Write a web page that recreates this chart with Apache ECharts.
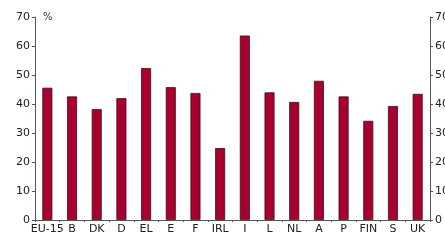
<!DOCTYPE html>
<html lang="en">
<head>
    <meta charset="UTF-8">
    <title>Chart</title>
    <style type="text/css">
        html, body { margin: 0; padding: 0; background: #fff; }
        #chart { width: 445px; height: 240px; }
    </style>
</head>
<body>
<div id="chart"></div>
<script src="https://cdn.jsdelivr.net/npm/echarts@6/dist/echarts.min.js"></script>
<script>
    // countries and values (%)
    var countries = ['EU-15', 'B', 'DK', 'D', 'EL', 'E', 'F', 'IRL', 'I', 'L', 'NL', 'A', 'P', 'FIN', 'S', 'UK'];
    var values = [45.6, 42.6, 38.2, 42.0, 52.4, 45.8, 43.8, 24.8, 63.6, 44.0, 40.7, 48.0, 42.6, 34.2, 39.3, 43.5];
    var yTicks = [0, 10, 20, 30, 40, 50, 60, 70];

    var font = 'DejaVu Sans, Verdana, sans-serif';
    var axisCol = '#555';

    var yAxisBase = {
        type: 'value',
        min: yTicks[0],
        max: yTicks[yTicks.length - 1],
        interval: 10,
        splitLine: { show: false },
        axisLine: { show: true, lineStyle: { color: axisCol, width: 1 } },
        axisTick: { show: true, length: 3, lineStyle: { color: axisCol } },
        axisLabel: { color: '#222', fontSize: 11, fontFamily: font, margin: 5 }
    };

    var myChart = echarts.init(document.getElementById('chart'));
    var option = {
        animation: false,
        grid: { left: 35, right: 15, top: 17, bottom: 20, containLabel: false, outerBoundsMode: 'none' },
        xAxis: {
            type: 'category',
            data: countries,
            axisLine: { lineStyle: { color: axisCol } },
            axisTick: { show: true, length: 2, lineStyle: { color: axisCol } },
            axisLabel: { color: '#222', fontSize: 11, fontFamily: font, margin: 4, interval: 0 }
        },
        yAxis: [
            Object.assign({}, yAxisBase, { position: 'left' }),
            Object.assign({}, yAxisBase, { position: 'right' })
        ],
        graphic: [{
            type: 'text', left: 43, top: 12,
            style: { text: '%', fill: '#333', fontSize: 10, fontFamily: font }
        }],
        series: [{
            type: 'bar',
            data: values,
            barWidth: 10,
            itemStyle: { color: '#a8002f', borderColor: '#3a1018', borderWidth: 0.8 }
        }]
    };
    myChart.setOption(option);
</script>
</body>
</html>
